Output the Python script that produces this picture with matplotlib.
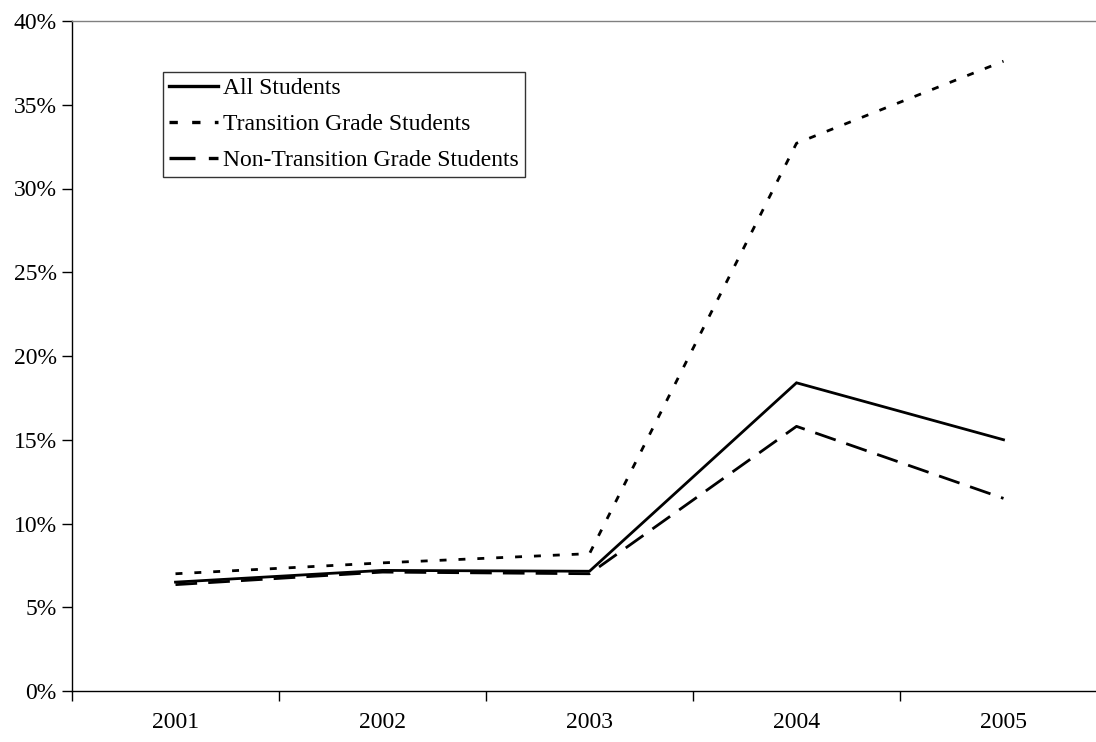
import matplotlib
matplotlib.use("Agg")
import matplotlib.pyplot as plt
from matplotlib.ticker import FixedLocator, FuncFormatter

plt.rcParams['font.family'] = ['Liberation Serif', 'DejaVu Serif']

years = ["2001", "2002", "2003", "2004", "2005"]
all_students = [6.5, 7.2, 7.15, 18.4, 15.0]
transition = [7.0, 7.65, 8.2, 32.7, 37.6]
non_transition = [6.35, 7.1, 7.0, 15.8, 11.5]

fig = plt.figure(figsize=(10.96, 7.42), dpi=100)
ax = fig.add_axes([72 / 1096, 1 - 691 / 742, (1107 - 72) / 1096, (691 - 21) / 742])

x = list(range(len(years)))
lw = 2.0
ax.plot(x, all_students, color='black', lw=lw, solid_joinstyle='miter',
        label='All Students')
ax.plot(x, transition, color='black', lw=lw, linestyle=(0, (2.5, 4.3)),
        dash_capstyle='butt', label='Transition Grade Students')
ax.plot(x, non_transition, color='black', lw=lw, linestyle=(0, (7.8, 4.0)),
        dash_capstyle='butt', label='Non-Transition Grade Students')

ax.set_xlim(-0.5, len(years) - 0.5)
ax.set_ylim(0, 40)

fs = 17
ax.yaxis.set_major_locator(FixedLocator(range(0, 41, 5)))
ax.yaxis.set_major_formatter(FuncFormatter(lambda v, p: f"{int(v)}%"))
ax.set_xticks(x)
ax.set_xticklabels(years)
ax.set_xticks([i - 0.5 for i in range(len(years) + 1)], minor=True)

ax.tick_params(axis='y', direction='out', length=7, width=1, labelsize=fs, pad=4)
ax.tick_params(axis='x', which='major', length=0, labelsize=fs, pad=15)
ax.tick_params(axis='x', which='minor', direction='out', length=7, width=1)

for side in ('left', 'bottom'):
    ax.spines[side].set_linewidth(1.0)
    ax.spines[side].set_color('black')
ax.spines['right'].set_visible(False)
ax.spines['top'].set_color('#808080')
ax.spines['top'].set_linewidth(1.0)

leg = ax.legend(loc='upper left', bbox_to_anchor=((163 - 72) / 1035, (691 - 72) / 670),
                fontsize=fs, frameon=True, fancybox=False, handlelength=2.1,
                handletextpad=0.2, borderpad=0.25, labelspacing=0.6,
                borderaxespad=0)
leg.get_frame().set_edgecolor('black')
leg.get_frame().set_linewidth(1.0)
for h in leg.get_lines():
    h.set_linewidth(2.4)

fig.savefig('out.png', dpi=100)
